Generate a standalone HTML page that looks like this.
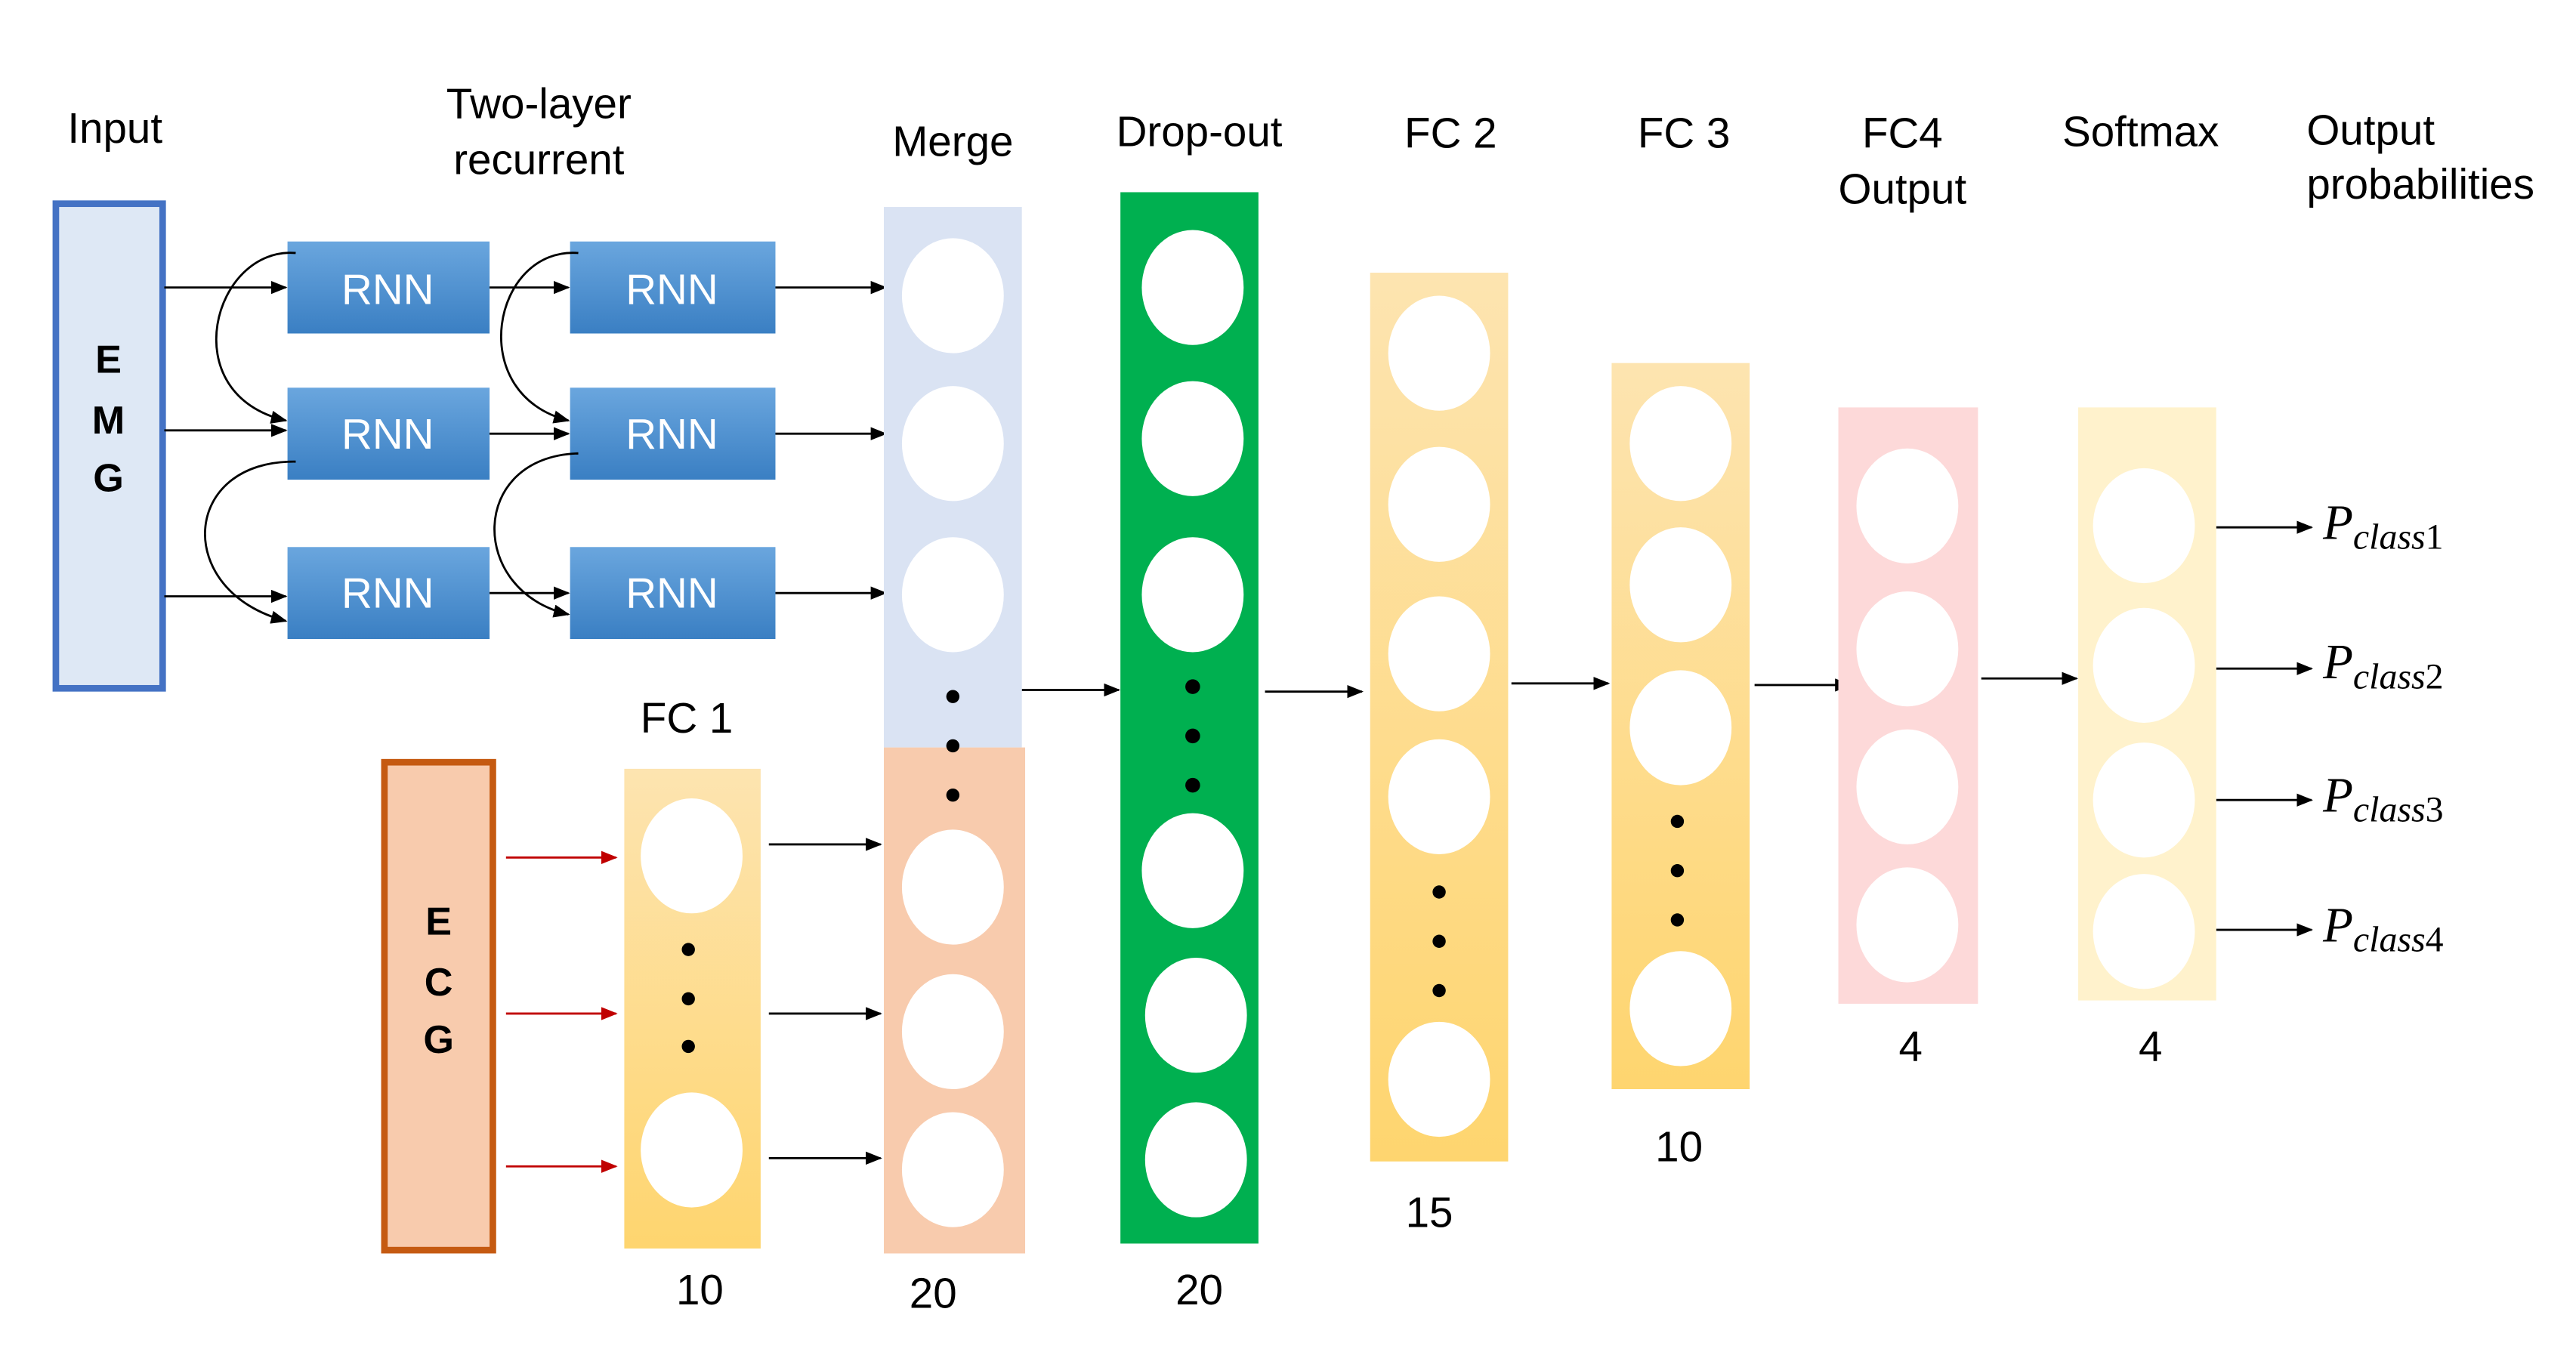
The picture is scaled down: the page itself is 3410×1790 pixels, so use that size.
<!DOCTYPE html>
<html><head><meta charset="utf-8"><style>
html,body{margin:0;padding:0;background:#fff;}
svg{display:block;}
text{font-family:"Liberation Sans",sans-serif;}
text.m, text.m tspan{font-family:"Liberation Serif",serif;}
</style></head><body>
<svg width="3410" height="1790" viewBox="0 0 1568 823" preserveAspectRatio="none" xmlns="http://www.w3.org/2000/svg">
<defs>
<marker id="a" markerWidth="10" markerHeight="8" refX="9" refY="4" orient="auto" markerUnits="userSpaceOnUse"><path d="M0,0L10,4L0,8z" fill="#000"/></marker>
<marker id="r" markerWidth="10" markerHeight="8" refX="9" refY="4" orient="auto" markerUnits="userSpaceOnUse"><path d="M0,0L10,4L0,8z" fill="#c00000"/></marker>
<linearGradient id="rnn" x1="0" y1="0" x2="0" y2="1"><stop offset="0" stop-color="#6aa6de"/><stop offset="1" stop-color="#3a7fc3"/></linearGradient>
<linearGradient id="fc" x1="0" y1="0" x2="0" y2="1"><stop offset="0" stop-color="#fde4b0"/><stop offset="1" stop-color="#fed56f"/></linearGradient>
</defs>
<g font-size="26" fill="#000">
<text x="70" y="87" text-anchor="middle">Input</text>
<text x="328" y="72" text-anchor="middle">Two-layer</text>
<text x="328" y="106" text-anchor="middle">recurrent</text>
<text x="580" y="95" text-anchor="middle">Merge</text>
<text x="730" y="89" text-anchor="middle">Drop-out</text>
<text x="883" y="90" text-anchor="middle">FC 2</text>
<text x="1025" y="90" text-anchor="middle">FC 3</text>
<text x="1158" y="90" text-anchor="middle">FC4</text>
<text x="1158" y="124" text-anchor="middle">Output</text>
<text x="1303" y="89" text-anchor="middle">Softmax</text>
<text x="1404" y="88">Output</text>
<text x="1404" y="121">probabilities</text>
<text x="418" y="446" text-anchor="middle">FC 1</text>
<text x="426" y="794" text-anchor="middle">10</text>
<text x="568" y="796" text-anchor="middle">20</text>
<text x="730" y="794" text-anchor="middle">20</text>
<text x="870" y="747" text-anchor="middle">15</text>
<text x="1022" y="707" text-anchor="middle">10</text>
<text x="1163" y="646" text-anchor="middle">4</text>
<text x="1309" y="646" text-anchor="middle">4</text>
</g>
<rect x="34" y="124" width="65" height="295" fill="#dee8f5" stroke="#4472c4" stroke-width="4"/>
<g font-size="24" font-weight="bold" text-anchor="middle"><text x="66" y="227">E</text><text x="66" y="264">M</text><text x="66" y="299">G</text></g>
<rect x="234" y="464" width="66" height="297" fill="#f8cbad" stroke="#c55a11" stroke-width="4"/>
<g font-size="24" font-weight="bold" text-anchor="middle"><text x="267" y="569">E</text><text x="267" y="606">C</text><text x="267" y="641">G</text></g>
<g fill="url(#rnn)">
<rect x="175" y="147" width="123" height="56"/><rect x="347" y="147" width="125" height="56"/>
<rect x="175" y="236" width="123" height="56"/><rect x="347" y="236" width="125" height="56"/>
<rect x="175" y="333" width="123" height="56"/><rect x="347" y="333" width="125" height="56"/>
</g>
<g font-size="26" fill="#fff" text-anchor="middle">
<text x="236" y="185">RNN</text><text x="409" y="185">RNN</text>
<text x="236" y="273">RNN</text><text x="409" y="273">RNN</text>
<text x="236" y="370">RNN</text><text x="409" y="370">RNN</text>
</g>
<g stroke="#000" stroke-width="1.3" fill="none" marker-end="url(#a)">
<line x1="100" y1="175" x2="174" y2="175"/><line x1="100" y1="262" x2="174" y2="262"/><line x1="100" y1="363" x2="174" y2="363"/>
<line x1="298" y1="175" x2="346" y2="175"/><line x1="298" y1="264" x2="346" y2="264"/><line x1="298" y1="361" x2="346" y2="361"/>
<line x1="472" y1="175" x2="539" y2="175"/><line x1="472" y1="264" x2="539" y2="264"/><line x1="472" y1="361" x2="539" y2="361"/>
<path d="M180,154 C130,150 105,240 174,256"/>
<path d="M180,281 C110,280 105,360 174,378"/>
<path d="M352,154 C300,150 282,240 346,256"/>
<path d="M352,276 C285,278 285,360 346,374"/>
<line x1="622" y1="420" x2="681" y2="420"/>
<line x1="770" y1="421" x2="829" y2="421"/>
<line x1="920" y1="416" x2="979" y2="416"/>
<line x1="1068" y1="417" x2="1126" y2="417"/>
<line x1="1206" y1="413" x2="1264" y2="413"/>
<line x1="468" y1="514" x2="536" y2="514"/><line x1="468" y1="617" x2="536" y2="617"/><line x1="468" y1="705" x2="536" y2="705"/>
<line x1="1349" y1="321" x2="1407" y2="321"/><line x1="1349" y1="407" x2="1407" y2="407"/><line x1="1349" y1="487" x2="1407" y2="487"/><line x1="1349" y1="566" x2="1407" y2="566"/>
</g>
<g stroke="#c00000" stroke-width="1.3" marker-end="url(#r)">
<line x1="308" y1="522" x2="375" y2="522"/><line x1="308" y1="617" x2="375" y2="617"/><line x1="308" y1="710" x2="375" y2="710"/>
</g>
<rect x="538" y="126" width="84" height="329" fill="#dae3f3"/>
<rect x="538" y="455" width="86" height="308" fill="#f8cbad"/>
<rect x="380" y="468" width="83" height="292" fill="url(#fc)"/>
<rect x="682" y="117" width="84" height="640" fill="#00b050"/>
<rect x="834" y="166" width="84" height="541" fill="url(#fc)"/>
<rect x="981" y="221" width="84" height="442" fill="url(#fc)"/>
<rect x="1119" y="248" width="85" height="363" fill="#fdd9d9"/>
<rect x="1265" y="248" width="84" height="361" fill="#fff2cc"/>
<g fill="#fff">
<ellipse cx="580" cy="180" rx="31" ry="35"/><ellipse cx="580" cy="270" rx="31" ry="35"/><ellipse cx="580" cy="362" rx="31" ry="35"/>
<ellipse cx="580" cy="540" rx="31" ry="35"/><ellipse cx="580" cy="628" rx="31" ry="35"/><ellipse cx="580" cy="712" rx="31" ry="35"/>
<ellipse cx="421" cy="521" rx="31" ry="35"/><ellipse cx="421" cy="700" rx="31" ry="35"/>
<ellipse cx="726" cy="175" rx="31" ry="35"/><ellipse cx="726" cy="267" rx="31" ry="35"/><ellipse cx="726" cy="362" rx="31" ry="35"/>
<ellipse cx="726" cy="530" rx="31" ry="35"/><ellipse cx="728" cy="618" rx="31" ry="35"/><ellipse cx="728" cy="706" rx="31" ry="35"/>
<ellipse cx="876" cy="215" rx="31" ry="35"/><ellipse cx="876" cy="307" rx="31" ry="35"/><ellipse cx="876" cy="398" rx="31" ry="35"/><ellipse cx="876" cy="485" rx="31" ry="35"/><ellipse cx="876" cy="657" rx="31" ry="35"/>
<ellipse cx="1023" cy="270" rx="31" ry="35"/><ellipse cx="1023" cy="356" rx="31" ry="35"/><ellipse cx="1023" cy="443" rx="31" ry="35"/><ellipse cx="1023" cy="614" rx="31" ry="35"/>
<ellipse cx="1161" cy="308" rx="31" ry="35"/><ellipse cx="1161" cy="395" rx="31" ry="35"/><ellipse cx="1161" cy="479" rx="31" ry="35"/><ellipse cx="1161" cy="563" rx="31" ry="35"/>
<ellipse cx="1305" cy="320" rx="31" ry="35"/><ellipse cx="1305" cy="405" rx="31" ry="35"/><ellipse cx="1305" cy="487" rx="31" ry="35"/><ellipse cx="1305" cy="567" rx="31" ry="35"/>
</g>
<g fill="#000">
<circle cx="580" cy="424" r="4"/><circle cx="580" cy="454" r="4"/><circle cx="580" cy="484" r="4"/>
<circle cx="419" cy="578" r="4"/><circle cx="419" cy="608" r="4"/><circle cx="419" cy="637" r="4"/>
<circle cx="726" cy="418" r="4.5"/><circle cx="726" cy="448" r="4.5"/><circle cx="726" cy="478" r="4.5"/>
<circle cx="876" cy="543" r="4"/><circle cx="876" cy="573" r="4"/><circle cx="876" cy="603" r="4"/>
<circle cx="1021" cy="500" r="4"/><circle cx="1021" cy="530" r="4"/><circle cx="1021" cy="560" r="4"/>
</g>
<g font-style="italic" font-size="30">
<text class="m" x="1414" y="328">P<tspan font-size="22" dy="6">class</tspan><tspan font-style="normal" font-size="22">1</tspan></text>
<text class="m" x="1414" y="413">P<tspan font-size="22" dy="6">class</tspan><tspan font-style="normal" font-size="22">2</tspan></text>
<text class="m" x="1414" y="494">P<tspan font-size="22" dy="6">class</tspan><tspan font-style="normal" font-size="22">3</tspan></text>
<text class="m" x="1414" y="573">P<tspan font-size="22" dy="6">class</tspan><tspan font-style="normal" font-size="22">4</tspan></text>
</g>
</svg>
</body></html>
